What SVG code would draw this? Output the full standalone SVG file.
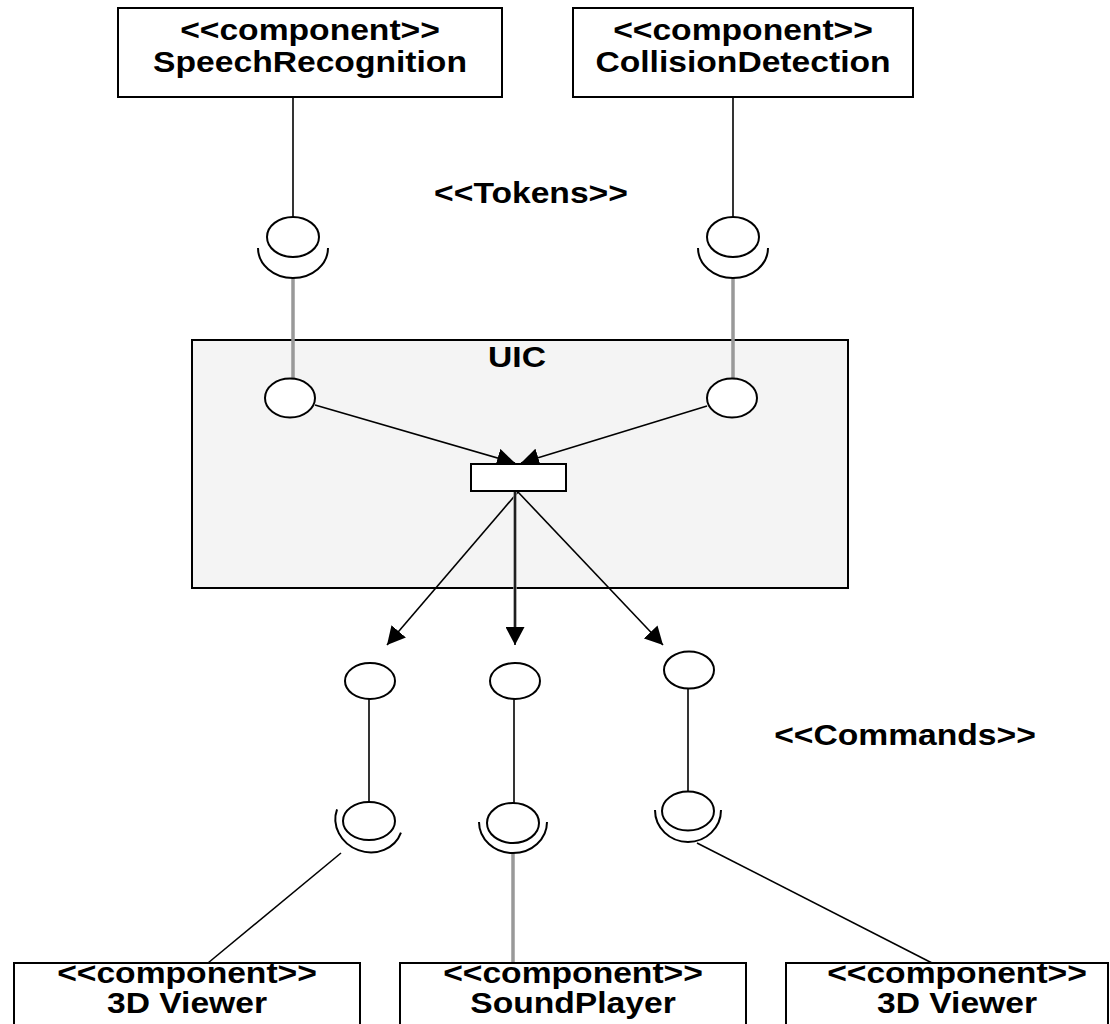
<svg xmlns="http://www.w3.org/2000/svg" width="1110" height="1024" viewBox="0 0 1110 1024">
<defs>
<marker id="arr" viewBox="0 0 18 19" refX="18" refY="9.5" markerWidth="18" markerHeight="19" orient="auto" markerUnits="userSpaceOnUse">
<path d="M0,0 L18,9.5 L0,19 Z" fill="#000"/>
</marker>
<style>
.box{fill:#fff;stroke:#000;stroke-width:2}
.uic{fill:#f4f4f4;stroke:#000;stroke-width:2}
.ball{fill:#fff;stroke:#000;stroke-width:2}
.sock{fill:none;stroke:#000;stroke-width:2}
.ln{fill:none;stroke:#000;stroke-width:1.6}
.gr{fill:none;stroke:#999;stroke-width:3.5}
.t{font-family:"Liberation Sans",Arial,sans-serif;font-weight:bold;font-size:29px;text-anchor:middle;fill:#000}
</style>
</defs>
<rect width="1110" height="1024" fill="#fff"/>
<g id="UIC">
<rect class="uic" x="192" y="340" width="656" height="248"/>
<text class="t" transform="translate(517 367) scale(1.16 1)">UIC</text>
</g>
<g id="labels">
<text class="t" transform="translate(531 203) scale(1.16 1)">&lt;&lt;Tokens&gt;&gt;</text>
<text class="t" transform="translate(905 745) scale(1.16 1)">&lt;&lt;Commands&gt;&gt;</text>
</g>
<g id="connectors">
<line class="ln" x1="293" y1="97" x2="293" y2="217"/>
<line class="ln" x1="733" y1="97" x2="733" y2="217"/>
<line class="gr" x1="293" y1="278" x2="293" y2="378"/>
<line class="gr" x1="733" y1="278" x2="733" y2="378"/>
<line class="ln" x1="315" y1="405" x2="515" y2="463" marker-end="url(#arr)"/>
<line class="ln" x1="707" y1="406" x2="521" y2="463" marker-end="url(#arr)"/>
<line class="ln" x1="518" y1="492" x2="387" y2="645" marker-end="url(#arr)"/>
<line class="gr" x1="515" y1="492" x2="515" y2="628"/>
<line class="ln" x1="515" y1="492" x2="515" y2="645" marker-end="url(#arr)"/>
<line class="ln" x1="518" y1="492" x2="663" y2="645" marker-end="url(#arr)"/>
<line class="ln" x1="369" y1="699" x2="369" y2="802"/>
<line class="ln" x1="514" y1="699" x2="514" y2="803"/>
<line class="ln" x1="688" y1="689" x2="688" y2="792"/>
<line class="ln" x1="341" y1="853" x2="208" y2="963"/>
<line class="gr" x1="513" y1="853" x2="513" y2="963"/>
<line class="ln" x1="697" y1="843" x2="932" y2="963"/>
</g>
<g id="SpeechRecognition">
<rect class="box" x="118" y="8" width="384" height="89"/>
<text class="t" transform="translate(310 40) scale(1.16 1)">&lt;&lt;component&gt;&gt;</text>
<text class="t" transform="translate(310 72) scale(1.16 1)">SpeechRecognition</text>
</g>
<g id="CollisionDetection">
<rect class="box" x="573" y="8" width="340" height="89"/>
<text class="t" transform="translate(743 40) scale(1.16 1)">&lt;&lt;component&gt;&gt;</text>
<text class="t" transform="translate(743 72) scale(1.16 1)">CollisionDetection</text>
</g>
<g id="iface-speech">
<ellipse class="ball" cx="293" cy="237" rx="26" ry="20"/>
<path class="sock" d="M258,248 A35,30 0 0 0 328,248"/>
<ellipse class="ball" cx="290" cy="398" rx="25" ry="19.5"/>
</g>
<g id="iface-collision">
<ellipse class="ball" cx="733" cy="237" rx="26" ry="20"/>
<path class="sock" d="M698,248 A35,30 0 0 0 768,248"/>
<ellipse class="ball" cx="732" cy="398" rx="25" ry="19.5"/>
</g>
<g id="dispatcher">
<rect class="box" x="471" y="464" width="95" height="27"/>
</g>
<g id="iface-viewer1">
<ellipse class="ball" cx="370" cy="681" rx="25" ry="18"/>
<ellipse class="ball" cx="369" cy="821" rx="26" ry="19"/>
<path class="sock" d="M335,821 A34,31 0 0 0 403,821" transform="rotate(20 369 821)"/>
</g>
<g id="iface-sound">
<ellipse class="ball" cx="515" cy="681" rx="25" ry="18"/>
<ellipse class="ball" cx="513" cy="823" rx="26" ry="20"/>
<path class="sock" d="M479,822 A34,31 0 0 0 547,822"/>
</g>
<g id="iface-viewer2">
<ellipse class="ball" cx="689" cy="670" rx="25" ry="18.5"/>
<ellipse class="ball" cx="688" cy="811" rx="26" ry="19.5"/>
<path class="sock" d="M655,810 A33,32 0 0 0 721,810"/>
</g>
<g id="Viewer3D-1">
<rect class="box" x="14" y="963" width="346" height="80"/>
<text class="t" transform="translate(187 983) scale(1.16 1)">&lt;&lt;component&gt;&gt;</text>
<text class="t" transform="translate(187 1013) scale(1.16 1)">3D Viewer</text>
</g>
<g id="SoundPlayer">
<rect class="box" x="400" y="963" width="346" height="80"/>
<text class="t" transform="translate(573 983) scale(1.16 1)">&lt;&lt;component&gt;&gt;</text>
<text class="t" transform="translate(573 1013) scale(1.16 1)">SoundPlayer</text>
</g>
<g id="Viewer3D-2">
<rect class="box" x="786" y="963" width="322" height="80"/>
<text class="t" transform="translate(957 983) scale(1.16 1)">&lt;&lt;component&gt;&gt;</text>
<text class="t" transform="translate(957 1013) scale(1.16 1)">3D Viewer</text>
</g>
</svg>
